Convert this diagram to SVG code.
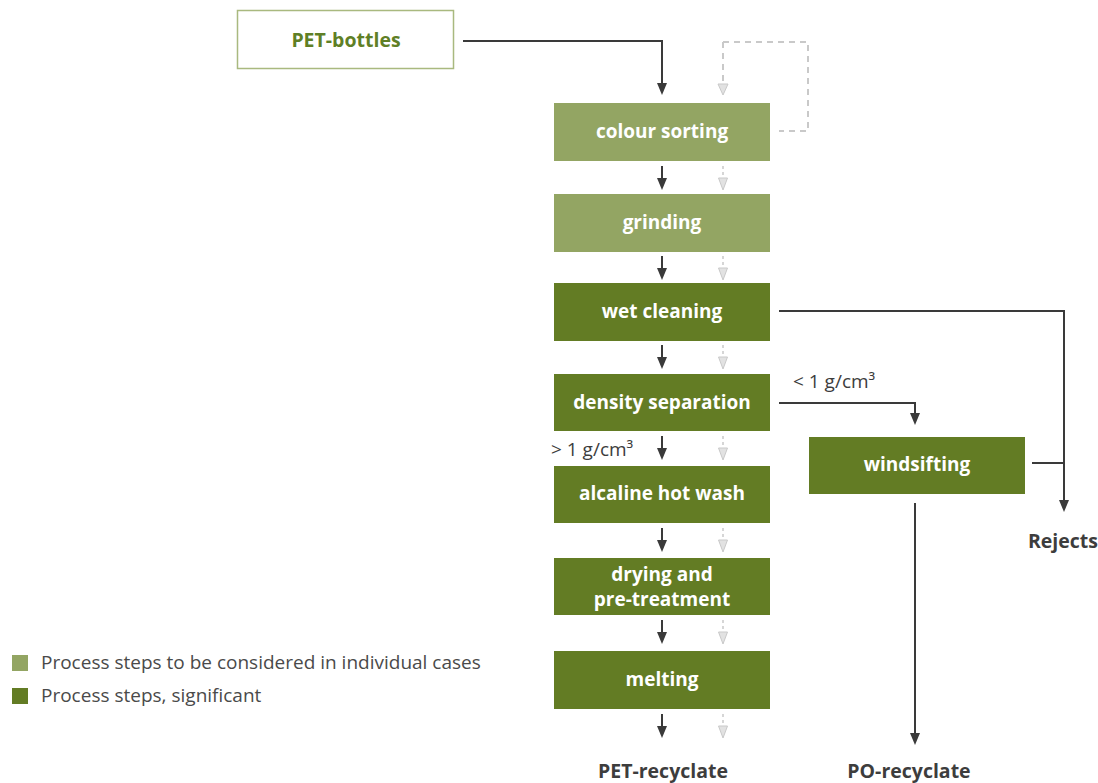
<svg xmlns="http://www.w3.org/2000/svg" width="1098" height="783" viewBox="0 0 1098 783">
<defs>
<style>
.box-light{fill:#93a563}
.box-dark{fill:#637c24}
.bt{font-family:"Open Sans","Liberation Sans",sans-serif;font-weight:bold;font-size:19px;fill:#ffffff;text-anchor:middle}
.lbl{font-family:"Open Sans","Liberation Sans",sans-serif;font-weight:bold;font-size:19.5px;fill:#3d3d3d;text-anchor:middle}
.note{font-family:"Open Sans","Liberation Sans",sans-serif;font-size:19px;fill:#3d3d3d}
.leg{font-family:"Open Sans","Liberation Sans",sans-serif;font-size:19px;fill:#4a4a4a}
.dk{fill:none;stroke:#3a3a3a;stroke-width:2}
.gr{fill:none;stroke:#c9c9c9;stroke-width:2;stroke-dasharray:6 5}
</style>
</defs>
<rect width="1098" height="783" fill="#ffffff"/>

<g id="connectors">
<path class="dk" d="M463,41 H662 V83"/>
<path class="gr" d="M723,42 H808 V131 H779"/>
<path class="gr" d="M723,42 V84"/>
<path d="M718,84 L728,84 L723,95 Z" fill="#e2e2e2" stroke="#c9c9c9" stroke-width="1"/>
<path d="M657,83 L667,83 L662,95 Z" fill="#3a3a3a"/>

<g id="dark-arrows" fill="#3a3a3a">
<line class="dk" x1="662" y1="166" x2="662" y2="180"/><path d="M657,178 L667,178 L662,190 Z"/>
<line class="dk" x1="662" y1="256" x2="662" y2="270"/><path d="M657,268 L667,268 L662,280 Z"/>
<line class="dk" x1="662" y1="345" x2="662" y2="359"/><path d="M657,357 L667,357 L662,369 Z"/>
<line class="dk" x1="662" y1="436" x2="662" y2="450"/><path d="M657,448 L667,448 L662,460 Z"/>
<line class="dk" x1="662" y1="528" x2="662" y2="542"/><path d="M657,540 L667,540 L662,552 Z"/>
<line class="dk" x1="662" y1="620" x2="662" y2="634"/><path d="M657,632 L667,632 L662,644 Z"/>
<line class="dk" x1="662" y1="714" x2="662" y2="728"/><path d="M657,726 L667,726 L662,738 Z"/>
</g>
<g id="grey-arrows" fill="#e2e2e2" stroke="#c9c9c9" stroke-width="1">
<line x1="723" y1="166" x2="723" y2="178" stroke-width="1.5" stroke-dasharray="3 3"/><path d="M718.5,178 L727.5,178 L723,190 Z"/>
<line x1="723" y1="256" x2="723" y2="268" stroke-width="1.5" stroke-dasharray="3 3"/><path d="M718.5,268 L727.5,268 L723,280 Z"/>
<line x1="723" y1="345" x2="723" y2="357" stroke-width="1.5" stroke-dasharray="3 3"/><path d="M718.5,357 L727.5,357 L723,369 Z"/>
<line x1="723" y1="436" x2="723" y2="448" stroke-width="1.5" stroke-dasharray="3 3"/><path d="M718.5,448 L727.5,448 L723,460 Z"/>
<line x1="723" y1="528" x2="723" y2="540" stroke-width="1.5" stroke-dasharray="3 3"/><path d="M718.5,540 L727.5,540 L723,552 Z"/>
<line x1="723" y1="620" x2="723" y2="632" stroke-width="1.5" stroke-dasharray="3 3"/><path d="M718.5,632 L727.5,632 L723,644 Z"/>
<line x1="723" y1="714" x2="723" y2="726" stroke-width="1.5" stroke-dasharray="3 3"/><path d="M718.5,726 L727.5,726 L723,738 Z"/>
</g>

<path class="dk" d="M779,311 H1064 V500"/>
<path d="M1059,500 L1069,500 L1064,512 Z" fill="#3a3a3a"/>
<path class="dk" d="M1032,463 H1064"/>
<path class="dk" d="M779,403 H915 V413"/>
<path d="M910,413 L920,413 L915,425 Z" fill="#3a3a3a"/>
<path class="dk" d="M915,503 V733"/>
<path d="M910,733 L920,733 L915,745 Z" fill="#3a3a3a"/>
</g>

<g id="pet-bottles">
<rect x="237.5" y="10.5" width="216" height="58" fill="#ffffff" stroke="#a9b97f" stroke-width="1.5"/>
<text x="346" y="47" class="lbl" style="fill:#5f7f26">PET-bottles</text>
</g>
<g id="colour-sorting">
<rect x="554" y="103" width="216" height="58" class="box-light"/>
<text x="662" y="138" class="bt">colour sorting</text>
</g>
<g id="grinding">
<rect x="554" y="194" width="216" height="58" class="box-light"/>
<text x="662" y="229" class="bt">grinding</text>
</g>
<g id="wet-cleaning">
<rect x="554" y="283" width="216" height="58" class="box-dark"/>
<text x="662" y="318" class="bt">wet cleaning</text>
</g>
<g id="density-separation">
<rect x="554" y="374" width="216" height="57" class="box-dark"/>
<text x="662" y="409" class="bt">density separation</text>
</g>
<g id="alcaline-hot-wash">
<rect x="554" y="466" width="216" height="57" class="box-dark"/>
<text x="662" y="500" class="bt">alcaline hot wash</text>
</g>
<g id="drying">
<rect x="554" y="558" width="216" height="57" class="box-dark"/>
<text x="662" y="581" class="bt">drying and</text>
<text x="662" y="606" class="bt">pre-treatment</text>
</g>
<g id="melting">
<rect x="554" y="651" width="216" height="58" class="box-dark"/>
<text x="662" y="686" class="bt">melting</text>
</g>
<g id="windsifting">
<rect x="809" y="437" width="216" height="57" class="box-dark"/>
<text x="917" y="471" class="bt">windsifting</text>
</g>

<g id="labels">
<text x="793" y="388" class="note">&lt; 1 g/cm³</text>
<text x="551" y="456" class="note">&gt; 1 g/cm³</text>
<text x="1063" y="548" class="lbl">Rejects</text>
<text x="663" y="778" class="lbl">PET-recyclate</text>
<text x="909" y="778" class="lbl">PO-recyclate</text>
</g>

<g id="legend">
<rect x="12" y="655" width="16" height="16" class="box-light"/>
<text x="41" y="669" class="leg">Process steps to be considered in individual cases</text>
<rect x="12" y="688" width="16" height="16" class="box-dark"/>
<text x="41" y="702" class="leg">Process steps, significant</text>
</g>
</svg>
